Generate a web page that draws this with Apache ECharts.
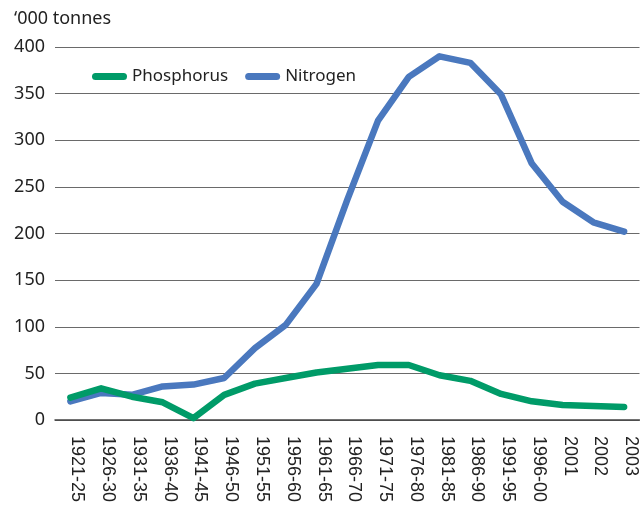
<!DOCTYPE html>
<html>
<head>
<meta charset="utf-8">
<script src="https://cdn.jsdelivr.net/npm/echarts@6/dist/echarts.min.js"></script>
<style>html,body{margin:0;padding:0;background:#fff}#c{width:640px;height:507px}</style>
</head>
<body>
<div id="c"></div>
<script>
var categories = ['1921-25','1926-30','1931-35','1936-40','1941-45','1946-50','1951-55','1956-60','1961-65','1966-70','1971-75','1976-80','1981-85','1986-90','1991-95','1996-00','2001','2002','2003'];
var phosphorus = [24, 34, 25, 19, 2, 27, 39, 45, 51, 55, 59, 59, 48, 42, 28, 20, 16, 15, 14];
var nitrogen = [20, 29, 27, 36, 38, 45, 77, 102, 146, 236, 321, 368, 390, 383, 349, 275, 234, 212, 202];
var yTicks = {min: 0, max: 400, interval: 50};
var unitLabel = '\u2018000 tonnes';

var capsule = 'path://M3.5,0 L31.5,0 A3.5,3.5 0 0 1 31.5,7 L3.5,7 A3.5,3.5 0 0 1 3.5,0 Z';
var chart = echarts.init(document.getElementById('c'), null, {renderer: 'canvas'});
chart.setOption({
  animation: false,
  title: {
    text: unitLabel, left: 9, top: 5,
    textStyle: {fontFamily: 'Noto Sans', fontSize: 18, fontWeight: 'normal', color: '#222'}
  },
  legend: {
    left: 87, top: 63,
    itemWidth: 35, itemHeight: 7, itemGap: 17,
    textStyle: {fontFamily: 'Noto Sans', fontSize: 17, color: '#222'},
    data: [{name: 'Phosphorus', icon: capsule}, {name: 'Nitrogen', icon: capsule}]
  },
  grid: {left: 55, top: 47, width: 589, bottom: 87, containLabel: false},
  xAxis: {
    type: 'category', data: categories, boundaryGap: true,
    axisLine: {lineStyle: {color: '#444', width: 1.5}},
    axisTick: {show: false},
    axisLabel: {
      rotate: -90, interval: 0, margin: 16,
      fontFamily: 'Liberation Sans', fontSize: 18, color: '#222',
      verticalAlign: 'bottom', lineHeight: 14
    }
  },
  yAxis: {
    type: 'value', min: yTicks.min, max: yTicks.max, interval: yTicks.interval,
    axisLine: {show: false}, axisTick: {show: false},
    axisLabel: {fontFamily: 'Noto Sans', fontSize: 18, color: '#222', margin: 10},
    splitLine: {lineStyle: {color: '#6a6a6a', width: 1.2}}
  },
  series: [
    {name: 'Phosphorus', type: 'line', data: phosphorus, showSymbol: false, symbol: 'none',
     color: '#009b68', lineStyle: {width: 6.5, color: '#009b68', cap: 'round', join: 'round'}, z: 3},
    {name: 'Nitrogen', type: 'line', data: nitrogen, showSymbol: false, symbol: 'none',
     color: '#4a78be', lineStyle: {width: 6.5, color: '#4a78be', cap: 'round', join: 'round'}, z: 2}
  ]
});
</script>
</body>
</html>
